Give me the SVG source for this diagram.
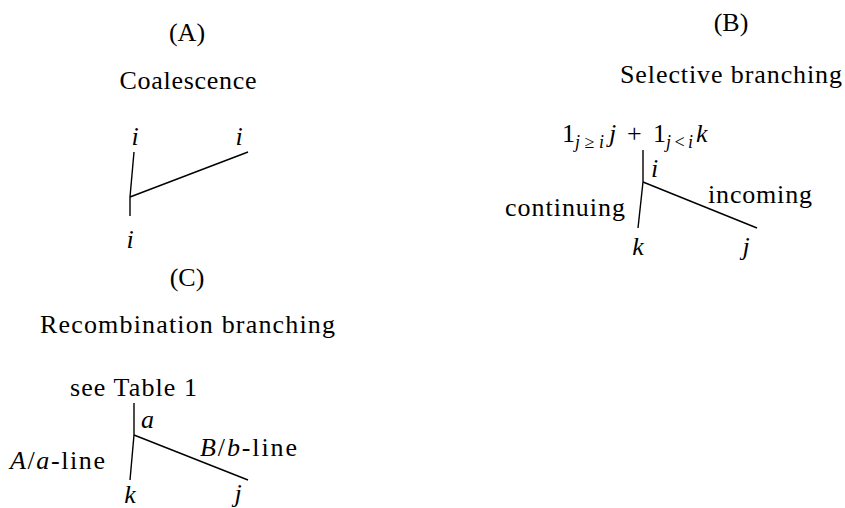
<svg xmlns="http://www.w3.org/2000/svg" width="845" height="508" viewBox="0 0 845 508">
<style>
text{font-family:"Liberation Serif","DejaVu Serif",serif;font-size:26px;fill:#000}
.m{font-style:italic}
.s{font-size:18px}
.c{text-anchor:middle}
line{stroke:#000;stroke-width:1.4;stroke-linecap:butt}
</style>
<rect width="845" height="508" fill="#fff"/>
<g id="panelA">
<text class="c" x="187" y="41">(A)</text>
<text class="c" x="188" y="89" textLength="137" lengthAdjust="spacing">Coalescence</text>
<text class="m c" x="135" y="145">i</text>
<text class="m c" x="239" y="145">i</text>
<text class="m c" x="130" y="248">i</text>
</g>
<g id="panelB">
<text class="c" x="731" y="31">(B)</text>
<text class="c" x="731" y="83" textLength="222" lengthAdjust="spacing">Selective branching</text>
<text x="562" y="142">1</text>
<text class="m s" x="575" y="148" textLength="29" lengthAdjust="spacing">j<tspan font-style="normal">≥</tspan>i</text>
<text class="m" x="609" y="142">j</text>
<text x="627" y="142">+</text>
<text x="653" y="142">1</text>
<text class="m s" x="666" y="148" textLength="27" lengthAdjust="spacing">j<tspan font-style="normal">&lt;</tspan>i</text>
<text class="m" x="696" y="142">k</text>
<text class="m" x="651" y="177">i</text>
<text x="708" y="203" textLength="104" lengthAdjust="spacing">incoming</text>
<text x="505" y="216" textLength="120" lengthAdjust="spacing">continuing</text>
<text class="m c" x="638" y="255">k</text>
<text class="m c" x="746" y="255">j</text>
</g>
<g id="panelC">
<text class="c" x="187" y="286">(C)</text>
<text x="40" y="333" textLength="295" lengthAdjust="spacing">Recombination branching</text>
<text x="70" y="396" textLength="127" lengthAdjust="spacing">see Table 1</text>
<text class="m" x="141" y="428">a</text>
<text x="200" y="456" textLength="97" lengthAdjust="spacing"><tspan class="m">B</tspan>/<tspan class="m">b</tspan>-line</text>
<text x="10" y="469" textLength="95" lengthAdjust="spacing"><tspan class="m">A</tspan>/<tspan class="m">a</tspan>-line</text>
<text class="m c" x="130" y="503">k</text>
<text class="m c" x="238" y="502">j</text>
</g>
<g id="connectors">
<line x1="134" y1="152" x2="130" y2="197"/>
<line x1="130" y1="197" x2="130" y2="216"/>
<line x1="130" y1="197" x2="248" y2="152"/>
<line x1="643" y1="150" x2="643" y2="182"/>
<line x1="643" y1="182" x2="638" y2="228"/>
<line x1="643" y1="182" x2="757" y2="228"/>
<line x1="134" y1="403" x2="134" y2="435"/>
<line x1="134" y1="435" x2="130" y2="480"/>
<line x1="134" y1="435" x2="248" y2="480"/>
</g>
</svg>
